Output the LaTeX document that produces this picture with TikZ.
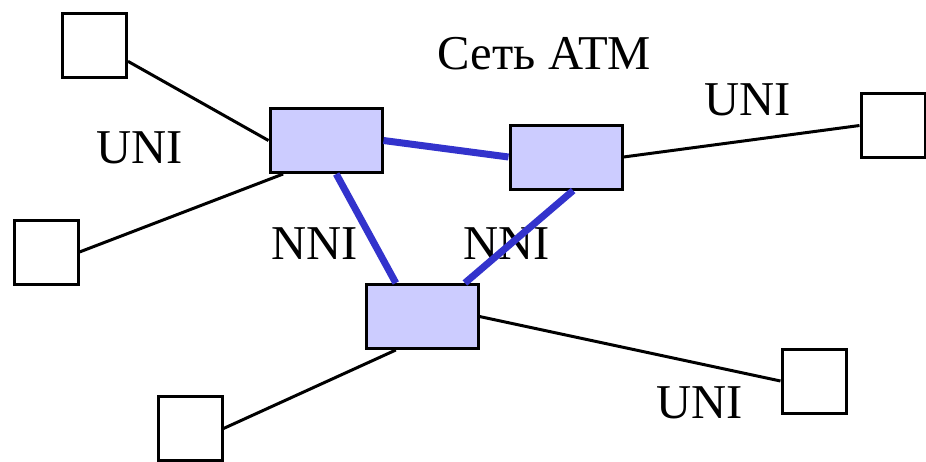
\documentclass[tikz,border=0pt]{standalone}
\usepackage{fontspec}
\setmainfont{Liberation Serif}
\usepackage{tikz}
\definecolor{swfill}{HTML}{CCCCFF}
\definecolor{nniblue}{HTML}{3333CC}

\begin{document}
\begin{tikzpicture}[x=0.5pt, y=-0.5pt,
    term/.style={draw, line width=1.5pt, fill=white, minimum width=32pt, minimum height=32pt, inner sep=0pt},
    switch/.style={draw, line width=1.5pt, fill=swfill, minimum width=56pt, minimum height=32pt, inner sep=0pt},
    uni/.style={line width=1.5pt},
    nni/.style={line width=3.5pt, nniblue},
    lbl/.style={inner sep=0pt, font=\fontsize{24.3}{29}\selectfont}]
  \useasboundingbox (0,0) rectangle (926,461);

  \node[term]     (T1)  at (94.5,45)  {};
  \node[term]     (T2)  at (46,252)   {};
  \node[term]     (T3)  at (190,428.5) {};
  \node[term]     (T4)  at (893,125.5) {};
  \node[term]     (T5)  at (814,381)  {};
  \node[switch]   (SA)  at (326,140.5) {};
  \node[switch]   (SB)  at (566,157)  {};
  \node[switch]   (SC)  at (422,316.5) {};

  \node[lbl]  (net)   at (544.5,53.5) {Сеть АТМ};
  \node[lbl]  (uni1)  at (140,147.5)  {UNI};
  \node[lbl]  (uni2)  at (748,99.5)   {UNI};
  \node[lbl]  (uni3)  at (699.5,403)  {UNI};
  \node[lbl]  (nni1)  at (315,243.5)  {NNI};

  \draw[uni] (T1.-26) -- (SA.west);
  \draw[uni] (T2.east) -- (SA.218);
  \draw[uni] (SB.east) -- (T4.west);
  \draw[uni] (SC.east) -- (T5.west);
  \draw[uni] (SC.232) -- (T3.east);
  \draw[nni] (SA.east) -- (SB.west);
  \draw[nni] (SA.-73) -- (SC.128);

  \node[lbl]  (nni2)  at (507,243.5)  {NNI};
  \draw[nni] (SB.-78) -- (SC.38);
\end{tikzpicture}
\end{document}
